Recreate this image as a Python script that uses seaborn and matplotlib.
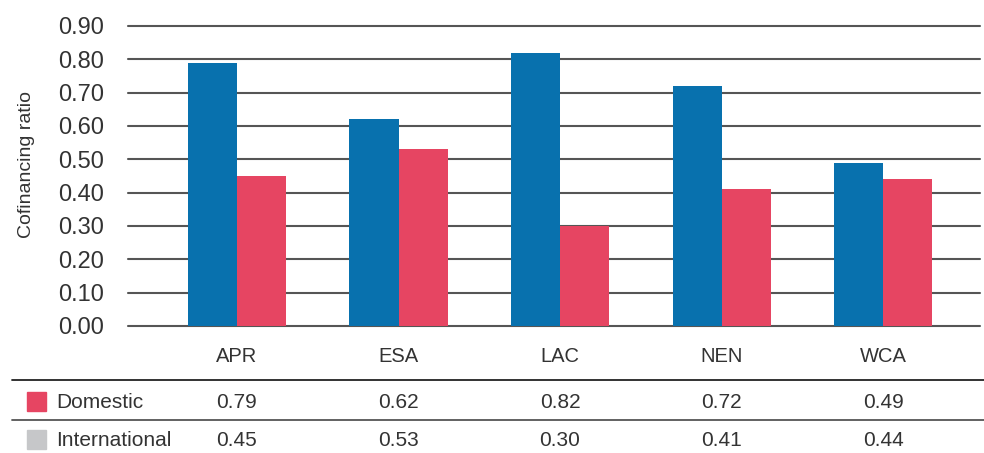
import matplotlib
matplotlib.use("Agg")
import matplotlib.pyplot as plt
from matplotlib.lines import Line2D
from matplotlib.patches import Rectangle
from matplotlib.transforms import blended_transform_factory
import seaborn as sns
import pandas as pd

# Data
regions = ["APR", "ESA", "LAC", "NEN", "WCA"]
domestic = [0.79, 0.62, 0.82, 0.72, 0.49]
international = [0.45, 0.53, 0.30, 0.41, 0.44]
yticks = [0.0, 0.1, 0.2, 0.3, 0.4, 0.5, 0.6, 0.7, 0.8, 0.9]
row_labels = ["Domestic", "International"]

df = pd.DataFrame({
    "Region": regions * 2,
    "Ratio": domestic + international,
    "Source": ["Domestic"] * len(regions) + ["International"] * len(regions),
})

sns.set_theme(style="white")
plt.rcParams["font.family"] = ["Liberation Sans", "DejaVu Sans"]
TEXT = "#333333"

fig = plt.figure(figsize=(9.84, 4.53), dpi=100)
ax = fig.add_axes([0.130, 0.2804, 0.866, 0.6623])

bar_colors = {"Domestic": "#0871ae", "International": "#e64562"}
sns.barplot(data=df, x="Region", y="Ratio", hue="Source", palette=bar_colors,
            width=0.607, gap=0, saturation=1, legend=False, ax=ax, zorder=3)
for p in ax.patches:
    p.set_edgecolor("none")
    p.set_linewidth(0)

ax.set_xlim(-0.675, 4.6)
ax.set_ylim(0, 0.9)
ax.set_yticks(yticks)
ax.set_yticklabels([f"{v:.2f}" for v in yticks], fontsize=17, color=TEXT)
ax.set_xticks(range(len(regions)))
ax.set_xticklabels(regions, fontsize=14.5, color=TEXT)
ax.tick_params(axis="y", length=0, pad=17)
ax.tick_params(axis="x", length=0, pad=15)
ax.set_xlabel("")
ax.set_ylabel("")

for v in yticks:
    ax.axhline(v, color="#555555", lw=1.5, zorder=1, clip_on=False)
for s in ax.spines.values():
    s.set_visible(False)

H = 453.0
def fy(py):
    return 1 - py / H

# Axis title, placed at fixed figure position
fig.text(27 / 984, fy(165), "Cofinancing ratio", rotation=90, fontsize=14,
         color=TEXT, ha="center", va="center")

# Data table beneath the chart
fig.add_artist(Line2D([12 / 984, 1], [fy(380), fy(380)], color="#222222", lw=1.3,
                      transform=fig.transFigure))
fig.add_artist(Line2D([12 / 984, 1], [fy(420), fy(420)], color="#555555", lw=1.3,
                      transform=fig.transFigure))

trans = blended_transform_factory(ax.transData, fig.transFigure)
row_y = [fy(402), fy(440)]
swatch_colors = ["#e64562", "#c6c7c9"]
for label, vals, y, sc in zip(row_labels, [domestic, international], row_y, swatch_colors):
    fig.add_artist(Rectangle((27 / 984, y - 9 / H), 19 / 984, 19 / H, color=sc,
                             transform=fig.transFigure))
    fig.text(56 / 984, y, label, fontsize=15, color=TEXT, va="center", ha="left")
    for i, v in enumerate(vals):
        fig.text(i, y, f"{v:.2f}", fontsize=15, color=TEXT, va="center",
                 ha="center", transform=trans)

fig.savefig("out.png", dpi=100, facecolor="white")
